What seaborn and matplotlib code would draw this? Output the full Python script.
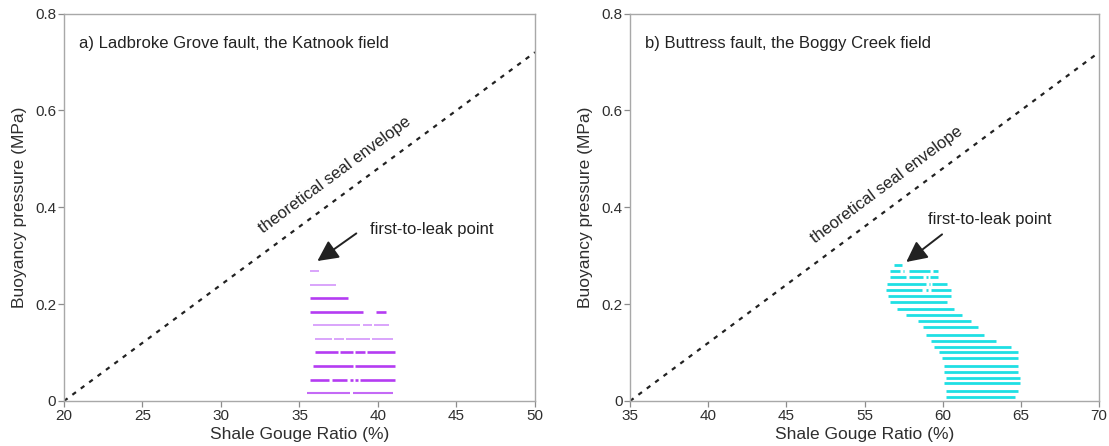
"""
Seal envelope vs. leak-point plots for two faults (Katnook / Boggy Creek).
Horizontal bars = SGR ranges of juxtaposed cells at each buoyancy step.
"""
import math
import pandas as pd
import seaborn as sns
import matplotlib.pyplot as plt

# ---- panel a) Ladbroke Grove fault, Katnook field ----
left_pressure = [0.268, 0.239, 0.212, 0.184, 0.157, 0.128, 0.101, 0.072, 0.043, 0.016]
left_shade = ['light', 'light', 'dark', 'dark', 'light', 'light', 'dark', 'dark', 'dark', 'medium']
left_sgr = [
    [(35.70, 36.27)],
    [(35.70, 37.35)],
    [(35.70, 38.11)],
    [(35.70, 39.07), (39.89, 40.53)],
    [(35.83, 38.87), (39.03, 39.64), (39.77, 40.72)],
    [(36.02, 37.04), (37.23, 37.86), (37.99, 39.51), (39.64, 40.97)],
    [(36.02, 37.48), (37.61, 38.43), (38.56, 39.20), (39.32, 41.10)],
    [(35.83, 38.43), (38.56, 41.10)],
    [(35.70, 36.91), (37.04, 38.05), (38.24, 38.41), (38.56, 38.71), (38.86, 41.10)],
    [(35.45, 38.24), (38.43, 40.97)],
]

# ---- panel b) Buttress fault, Boggy Creek field ----
right_pressure = [0.280, 0.268, 0.256, 0.241, 0.229, 0.216, 0.204, 0.190, 0.177, 0.165, 0.153,
                  0.136, 0.124, 0.111, 0.101, 0.089, 0.072, 0.060, 0.047, 0.037, 0.021, 0.008]
right_sgr = [
    [(56.91, 57.42)],
    [(56.65, 57.29), (57.45, 57.54), (57.86, 59.20), (59.39, 59.70)],
    [(56.65, 57.67), (57.86, 58.75), (58.94, 59.04), (59.20, 59.70)],
    [(56.46, 58.92), (59.10, 59.20), (59.32, 60.28)],
    [(56.40, 58.69), (58.94, 59.04), (59.26, 60.53)],
    [(56.50, 60.53)],
    [(56.65, 60.28)],
    [(57.10, 60.72)],
    [(57.67, 61.23)],
    [(58.43, 61.80)],
    [(58.75, 62.25)],
    [(58.94, 62.63)],
    [(59.26, 63.39)],
    [(59.45, 64.34)],
    [(59.77, 64.79)],
    [(59.96, 64.79)],
    [(60.08, 64.79)],
    [(60.08, 64.79)],
    [(60.21, 64.92)],
    [(60.08, 64.92)],
    [(60.21, 64.79)],
    [(60.21, 64.60)],
]

# seal envelope end points
left_env_x, left_env_y = [20, 50], [0, 0.72]
right_env_x, right_env_y = [40, 70], [0, 0.72]

left_xticks = [20, 25, 30, 35, 40, 45, 50]
left_xlabels = ['20', '25', '30', '35', '40', '45', '50']
right_xticks = [40, 45, 50, 55, 60, 65, 70]
right_xlabels = ['35', '40', '45', '55', '60', '65', '70']  # as printed on the original
yticks = [0, 0.2, 0.4, 0.6, 0.8]
ylabels = ['0', '0.2', '0.4', '0.6', '0.8']


def seg_table(pressures, sgr, shades):
    recs = []
    k = 0
    for p, segs, sh in zip(pressures, sgr, shades):
        for x0, x1 in segs:
            recs.append((k, x0, p, sh))
            recs.append((k, x1, p, sh))
            k += 1
    return pd.DataFrame(recs, columns=['seg', 'sgr', 'pressure', 'shade'])


sns.set_style('white')
plt.rcParams['font.family'] = ['Liberation Sans', 'DejaVu Sans']
plt.rcParams['lines.solid_capstyle'] = 'butt'

fig = plt.figure(figsize=(11.09, 4.46), dpi=100)
ax_a = fig.add_axes([0.0577, 0.1009, 0.4247, 0.8688])
ax_b = fig.add_axes([0.5681, 0.1009, 0.4229, 0.8688])

df_a = seg_table(left_pressure, left_sgr, left_shade)
df_b = seg_table(right_pressure, right_sgr, ['cyan'] * len(right_pressure))

sns.lineplot(data=df_a, x='sgr', y='pressure', units='seg', estimator=None, sort=False,
             hue='shade', palette={'light': '#d79dfb', 'dark': '#b43cf2', 'medium': '#c46af6'},
             size='shade', sizes={'light': 1.3, 'dark': 1.9, 'medium': 1.5},
             legend=False, ax=ax_a)
sns.lineplot(data=df_b, x='sgr', y='pressure', units='seg', estimator=None, sort=False,
             color='#1fdfe4', linewidth=2.0, legend=False, ax=ax_b)

panels = [
    (ax_a, left_env_x, left_env_y, left_xticks, left_xlabels,
     'a) Ladbroke Grove fault, the Katnook field', (37.26, 0.467),
     (39.51, 0.354), (38.62, 0.346), (36.14, 0.289)),
    (ax_b, right_env_x, right_env_y, right_xticks, right_xlabels,
     'b) Buttress fault, the Boggy Creek field', (56.4, 0.447),
     (59.07, 0.374), (59.96, 0.344), (57.67, 0.287)),
]

for ax, ex, ey, xt, xl, title, env_txt, leak_txt, arr_tail, arr_tip in panels:
    sns.lineplot(x=ex, y=ey, color='#222222', linewidth=1.6,
                 linestyle=(0, (2.0, 2.7)), ax=ax)
    ax.set_xlim(xt[0], xt[-1])
    ax.set_ylim(0, 0.8)
    ax.set_xticks(xt)
    ax.set_xticklabels(xl)
    ax.set_yticks(yticks)
    ax.set_yticklabels(ylabels)
    ax.tick_params(direction='out', length=4, width=0.9, color='#8c8c8c',
                   labelsize=11, labelcolor='#2e2e2e', pad=1.5,
                   bottom=True, left=True)
    for s in ax.spines.values():
        s.set_color('#a8a8a8')
        s.set_linewidth(1.0)
    ax.set_xlabel('Shale Gouge Ratio (%)', fontsize=12.5, color='#2e2e2e', labelpad=3)
    ax.set_ylabel('Buoyancy pressure (MPa)', fontsize=12.5, color='#2e2e2e', labelpad=6)

    ax.text(0.031, 0.923, title, transform=ax.transAxes, fontsize=12,
            color='#222222', ha='left', va='center')

    # rotate label along the envelope
    p0 = ax.transData.transform((ex[0], ey[0]))
    p1 = ax.transData.transform((ex[1], ey[1]))
    ang = math.degrees(math.atan2(p1[1] - p0[1], p1[0] - p0[0]))
    ax.text(env_txt[0], env_txt[1], 'theoretical seal envelope', fontsize=12,
            color='#222222', rotation=ang, rotation_mode='anchor',
            ha='center', va='center')

    ax.text(leak_txt[0], leak_txt[1], 'first-to-leak point', fontsize=12,
            color='#222222', ha='left', va='center')
    ax.annotate('', xy=arr_tip, xytext=arr_tail,
                arrowprops=dict(arrowstyle='-|>,head_length=0.9,head_width=0.45',
                                color='#222222', lw=1.4, mutation_scale=14,
                                shrinkA=0, shrinkB=0))

fig.savefig('out.png', dpi=100)
